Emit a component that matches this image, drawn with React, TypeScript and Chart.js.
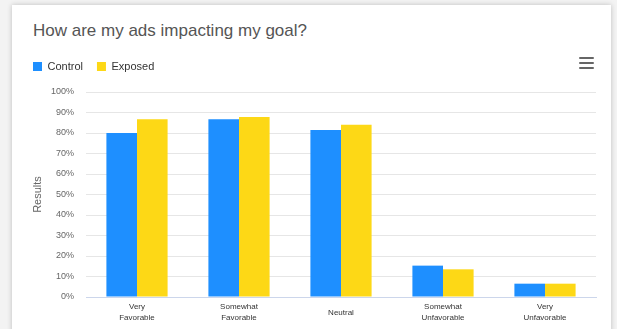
import React, { useEffect, useRef } from 'react';
import { Chart, registerables } from 'chart.js';

Chart.register(...registerables);

const categories: (string | string[])[] = [
  ['Very', 'Favorable'],
  ['Somewhat', 'Favorable'],
  'Neutral',
  ['Somewhat', 'Unfavorable'],
  ['Very', 'Unfavorable'],
];
const seriesNames = ['Control', 'Exposed'];
const controlValues = [80, 86.7, 81.5, 15.3, 6.5];
const exposedValues = [86.7, 87.8, 84, 13.5, 6.5];
const yMin = 0;
const yMax = 100;
const yStep = 10;

const FONT = '"Liberation Sans", Arial, sans-serif';

const legendMargin = {
  id: 'legendMargin',
  beforeInit(chart: any) {
    const legend = chart.legend;
    if (!legend) return;
    const fit = legend.fit;
    legend.fit = function () {
      fit.bind(legend)();
      this.height += 10;
    };
  },
};

function BarChart() {
  const ref = useRef<HTMLCanvasElement | null>(null);
  useEffect(() => {
    if (!ref.current) return;
    const chart = new Chart(ref.current, {
      type: 'bar',
      data: {
        labels: categories as any,
        datasets: [
          {
            label: seriesNames[0],
            data: controlValues,
            backgroundColor: '#1E8FFF',
            borderWidth: 0,
            categoryPercentage: 0.6,
            barPercentage: 1,
          },
          {
            label: seriesNames[1],
            data: exposedValues,
            backgroundColor: '#FDD816',
            borderWidth: 0,
            categoryPercentage: 0.6,
            barPercentage: 1,
          },
        ],
      },
      plugins: [legendMargin],
      options: {
        animation: false,
        responsive: false,
        maintainAspectRatio: false,
        layout: { padding: { left: 7, right: 15, top: 0, bottom: 0 } },
        plugins: {
          title: { display: false },
          tooltip: { enabled: false },
          legend: {
            display: true,
            position: 'top',
            align: 'start',
            labels: {
              boxWidth: 9,
              boxHeight: 9,
              padding: 14,
              color: '#333333',
              font: { family: FONT, size: 11 },
            },
          },
        },
        scales: {
          x: {
            grid: { display: false, drawTicks: false },
            border: { display: true, color: '#ccd6eb', width: 1 },
            ticks: {
              color: '#333333',
              font: { family: FONT, size: 8, lineHeight: 1.35 },
              padding: 10,
              maxRotation: 0,
              autoSkip: false,
              crossAlign: 'center',
            },
            afterFit(scale: any) {
              scale.height = 33;
            },
          },
          y: {
            min: yMin,
            max: yMax,
            grid: { color: '#e6e6e6', drawTicks: false, lineWidth: 1 },
            border: { display: false },
            ticks: {
              stepSize: yStep,
              color: '#666666',
              font: { family: FONT, size: 9 },
              padding: 12,
              callback: (v: any) => `${v}%`,
            },
            title: {
              display: true,
              text: 'Results',
              color: '#666666',
              font: { family: FONT, size: 11 },
              padding: { top: 12, bottom: 0 },
            },
            afterFit(scale: any) {
              scale.width = 67;
            },
          },
        },
      },
    });
    return () => chart.destroy();
  }, []);
  return (
    <canvas
      ref={ref}
      width={599}
      height={283}
      style={{ position: 'absolute', left: 0, top: 42, width: 599, height: 283 }}
    />
  );
}

export default function App() {
  const bar = (top: number) => (
    <div
      style={{
        position: 'absolute',
        left: 567,
        top,
        width: 15,
        height: 2.4,
        background: '#666666',
        borderRadius: 1,
      }}
    />
  );
  return (
    <div
      style={{
        position: 'fixed',
        inset: 0,
        overflow: 'hidden',
        background: '#f3f3f3',
        margin: 0,
      }}
    >
      <div
        style={{
          position: 'absolute',
          left: 12,
          top: 5,
          width: 599,
          height: 340,
          background: '#ffffff',
          boxShadow: '0 0 5px rgba(0,0,0,0.22)',
        }}
      >
        <div
          style={{
            position: 'absolute',
            left: 21,
            top: 16,
            fontFamily: FONT,
            fontSize: 17,
            color: '#555555',
            whiteSpace: 'nowrap',
            lineHeight: '20px',
          }}
        >
          How are my ads impacting my goal?
        </div>
        {bar(52)}
        {bar(57)}
        {bar(62)}
        <BarChart />
      </div>
    </div>
  );
}
